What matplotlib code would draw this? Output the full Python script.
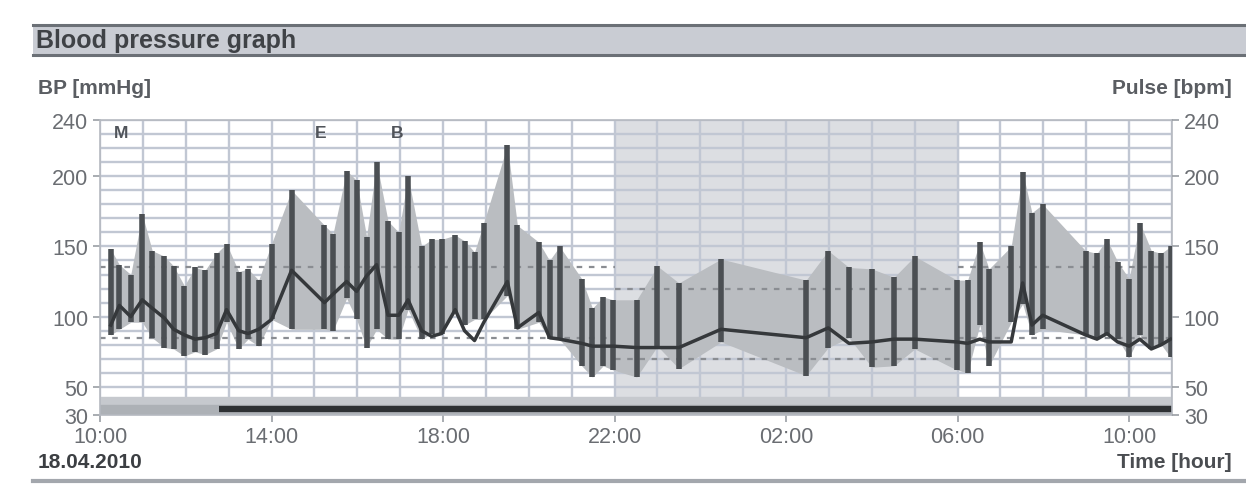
import matplotlib.pyplot as plt
import numpy as np

plt.rcParams['font.family'] = ['Liberation Sans', 'DejaVu Sans']

# measurement times (18.04.2010 10:00 -> 19.04.2010 11:00)
times = ['10:15', '10:27', '10:43', '10:59', '11:13', '11:30', '11:43', '11:58', '12:13', '12:27',
         '12:43', '12:57', '13:14', '13:27', '13:42', '14:00', '14:28', '15:14', '15:26', '15:45',
         '15:59', '16:13', '16:27', '16:43', '16:58', '17:11', '17:30', '17:44', '17:58', '18:17',
         '18:30', '18:44', '18:57', '19:30', '19:44', '20:14', '20:29', '20:43', '21:14', '21:29',
         '21:44', '21:58', '22:31', '23:00', '23:30', '00:29', '02:28', '02:59', '03:28', '04:00',
         '04:31', '05:00', '05:59', '06:14', '06:31', '06:44', '07:15', '07:31', '07:44', '07:59',
         '08:59', '09:15', '09:29', '09:44', '10:00', '10:15', '10:31', '10:45', '10:58']

systolic = [148, 137, 130, 173, 147, 143, 136, 122, 135, 133,
            145, 152, 132, 134, 126, 152, 190, 165, 159, 204,
            197, 157, 210, 168, 160, 200, 150, 155, 155, 158,
            154, 146, 167, 222, 165, 153, 140, 150, 127, 106,
            114, 112, 112, 136, 124, 141, 126, 147, 135, 134,
            128, 143, 126, 126, 153, 134, 150, 203, 174, 180,
            147, 145, 155, 139, 127, 167, 147, 145, 150]

diastolic = [87, 91, 96, 96, 85, 78, 77, 72, 75, 73,
             77, 96, 77, 84, 79, 98, 91, 91, 90, 113,
             98, 78, 91, 84, 84, 105, 84, 88, 88, 103,
             94, 98, 98, 115, 91, 96, 84, 84, 65, 57,
             65, 62, 57, 79, 63, 82, 58, 78, 85, 64,
             65, 77, 62, 60, 94, 65, 96, 109, 87, 91,
             87, 84, 87, 84, 71, 87, 77, 80, 71]

pulse = [94, 108, 100, 112, 106, 99, 91, 87, 84, 85,
         88, 105, 90, 88, 91, 98, 133, 110, 116, 125,
         118, 129, 137, 101, 101, 112, 90, 86, 88, 105,
         90, 83, 96, 125, 92, 103, 85, 84, 81, 79,
         79, 79, 78, 78, 78, 91, 85, 92, 81, 82,
         84, 84, 82, 81, 84, 82, 82, 124, 94, 101,
         87, 84, 88, 82, 79, 84, 77, 80, 84]

# limits: day 135/85, night 120/70
day_limits = [135, 85]
night_limits = [120, 70]
markers = [('M', '10:30'), ('E', '15:08'), ('B', '16:55')]

y_ticks = [30, 50, 100, 150, 200, 240]
x_ticks = ['10:00', '14:00', '18:00', '22:00', '02:00', '06:00', '10:00']


def to_hours(labels):
    out = []
    prev = -1
    for s in labels:
        hh, mm = s.split(':')
        t = int(hh) + int(mm) / 60 - 10
        while t < prev:
            t += 24
        out.append(t)
        prev = t
    return np.array(out)


t = to_hours(times)
sys_v = np.array(systolic)
dia_v = np.array(diastolic)

fig = plt.figure(figsize=(12.46, 4.89), dpi=100)
ax = fig.add_axes([0.0803, 0.1493, 1172 / 1246 - 0.0803, 0.7526 - 0.1493])

grid_c = '#c1c7d3'
# night background
ax.axvspan(12, 20, color='#dcdee2', zorder=0)
for v in range(40, 241, 10):
    ax.axhline(v, color=grid_c, lw=1.7, zorder=1)
for h in range(0, 26):
    ax.axvline(h, color=grid_c, lw=1.7, zorder=1)

# bottom band
ax.axhspan(30, 43, color='#c6c9ce', zorder=1.5)
ax.axhspan(30, 37, color='#adb1b6', zorder=1.6)
ax.hlines(34, 2.78, 25, color='#2e3134', lw=4.5, zorder=2)

# envelope
ax.fill_between(t, dia_v, sys_v, color='#babdc1', lw=0, zorder=2)

# limits
dash = dict(color='#8a8d92', lw=1.6, ls=(0, (2.5, 3)), zorder=2.5)
for v in day_limits:
    ax.hlines(v, 0, 12, **dash)
    ax.hlines(v, 20, 25, **dash)
for v in night_limits:
    ax.hlines(v, 12, 20, **dash)

# bars
ax.vlines(t, dia_v, sys_v, color='#4b4f53', lw=4, zorder=3)
# pulse
ax.plot(t, pulse, color='#35383b', lw=2.5, zorder=4)

for txt, tm in markers:
    ax.text(to_hours([tm])[0], 231, txt, ha='center', va='center', fontsize=12.5,
            fontweight='bold', color='#50545a', zorder=5)

ax.set_xlim(0, 25)
ax.set_ylim(30, 240)
ax.set_yticks(y_ticks)
ax.set_xticks(to_hours(x_ticks[:-1]).tolist() + [24])
ax.set_xticklabels(x_ticks)
ax.tick_params(axis='both', colors='#9a9ea4', labelcolor='#6a6d72', labelsize=15.5, length=5, width=1.2)
ax.tick_params(axis='x', pad=3)
for s in ax.spines.values():
    s.set_color('#b5b9c0')
    s.set_linewidth(1.2)

ax2 = ax.twinx()
ax2.set_ylim(30, 240)
ax2.set_yticks(y_ticks)
ax2.tick_params(axis='y', colors='#9a9ea4', labelcolor='#6a6d72', labelsize=15.5, length=5, width=1.2)
for s in ax2.spines.values():
    s.set_visible(False)

# header bar
fig.patches.append(plt.Rectangle((33 / 1246, 1 - 57 / 489), 1, 32 / 489, transform=fig.transFigure,
                                 facecolor='#c9ccd3', edgecolor='none'))
fig.add_artist(plt.Line2D([33 / 1246, 1], [1 - 26 / 489] * 2, color='#6b7076', lw=2.2))
fig.add_artist(plt.Line2D([33 / 1246, 1], [1 - 56 / 489] * 2, color='#6b7076', lw=2.2))
fig.add_artist(plt.Line2D([33 / 1246, 1], [1 - 482 / 489] * 2, color='#a3a7ad', lw=3))
fig.text(36 / 1246, 1 - 41 / 489, 'Blood pressure graph', fontsize=18, fontweight='bold',
         color='#3f4246', va='center', ha='left')

fig.text(38 / 1246, 1 - 88 / 489, 'BP [mmHg]', fontsize=15, fontweight='bold', color='#5a5d62',
         va='center', ha='left')
fig.text(1232 / 1246, 1 - 88 / 489, 'Pulse [bpm]', fontsize=15, fontweight='bold', color='#5a5d62',
         va='center', ha='right')
fig.text(38 / 1246, 1 - 463 / 489, '18.04.2010', fontsize=15, fontweight='bold', color='#3c3f43',
         va='center', ha='left')
fig.text(1232 / 1246, 1 - 463 / 489, 'Time [hour]', fontsize=15, fontweight='bold', color='#4a4d51',
         va='center', ha='right')

fig.savefig('out.png', dpi=100)
